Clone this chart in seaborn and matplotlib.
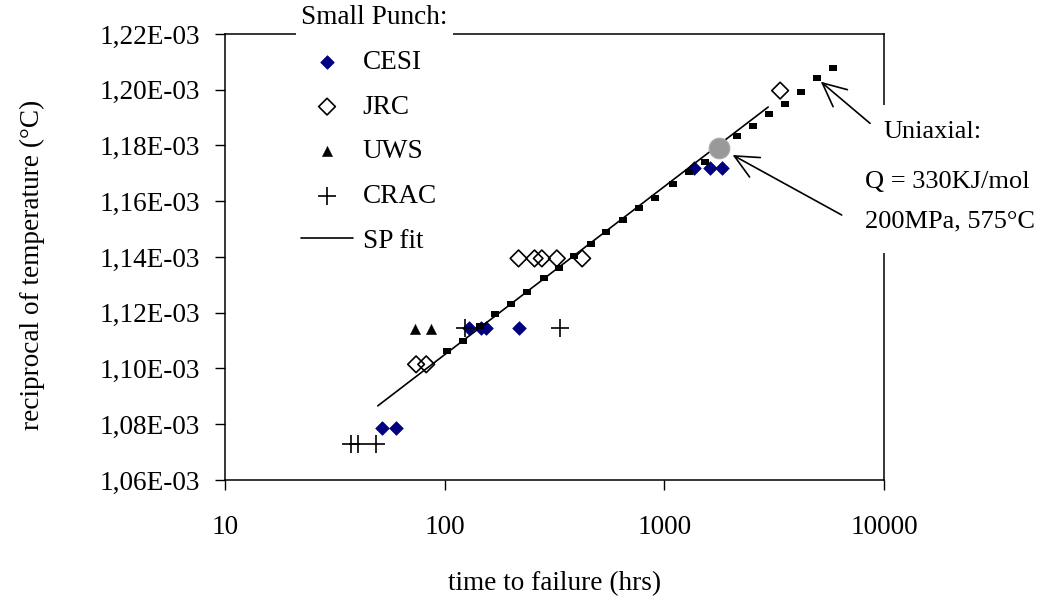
import numpy as np
import pandas as pd
import matplotlib
matplotlib.use("Agg")
import matplotlib.pyplot as plt
import seaborn as sns
from matplotlib.markers import MarkerStyle
from matplotlib.patches import Rectangle
from matplotlib.ticker import FixedLocator, FuncFormatter, NullLocator

# ---------------- data ----------------
cesi_t = [52.1, 60.3, 129.0, 146.9, 153.6, 216.9, 1369, 1618, 1829]
cesi_v = [1.0786e-3, 1.0786e-3, 1.1144e-3, 1.1144e-3, 1.1144e-3, 1.1144e-3,
          1.1718e-3, 1.1718e-3, 1.1718e-3]
jrc_t = [74.1, 82.4, 216.9, 256.5, 276.9, 324.0, 422.5, 3366]
jrc_v = [1.1015e-3, 1.1015e-3, 1.1395e-3, 1.1395e-3, 1.1395e-3, 1.1395e-3,
         1.1395e-3, 1.1997e-3]
uws_t = [73.1, 86.4]
uws_v = [1.1142e-3, 1.1142e-3]
crac_t = [37.3, 40.4, 48.9, 123.3, 336.7]
crac_v = [1.0728e-3, 1.0728e-3, 1.0728e-3, 1.1144e-3, 1.1144e-3]
fit_t = [49.6, 2970]
fit_v = [1.0866e-3, 1.1938e-3]
uni_t = [102.9, 121.4, 144.2, 170.2, 201.1, 237.6, 281.8, 333.2, 389.9, 464.4,
         543.3, 646.2, 764.2, 910.2, 1099, 1299, 1536, 1816, 2141, 2538, 3001,
         3548, 4195, 4961, 5862]
uni_v = [1.1064e-3, 1.1098e-3, 1.1153e-3, 1.1194e-3, 1.1230e-3, 1.1273e-3,
         1.1324e-3, 1.1360e-3, 1.1404e-3, 1.1446e-3, 1.1490e-3, 1.1533e-3,
         1.1576e-3, 1.1611e-3, 1.1662e-3, 1.1704e-3, 1.1740e-3, 1.1787e-3,
         1.1834e-3, 1.1869e-3, 1.1913e-3, 1.1949e-3, 1.1991e-3, 1.2041e-3,
         1.2077e-3]
ref_t = [1778]
ref_v = [1.1792e-3]

x_ticks = [10, 100, 1000, 10000]
y_ticks = [1.06e-3, 1.08e-3, 1.10e-3, 1.12e-3, 1.14e-3, 1.16e-3, 1.18e-3, 1.20e-3, 1.22e-3]

# ---------------- style ----------------
sns.set_theme(style="ticks")
plt.rcParams['font.family'] = ['Liberation Serif', 'DejaVu Serif']
plt.rcParams['text.color'] = 'black'
plt.rcParams['axes.labelcolor'] = 'black'
plt.rcParams['xtick.color'] = 'black'
plt.rcParams['ytick.color'] = 'black'
plt.rcParams['axes.linewidth'] = 1.1
FS = 19.6
FS_ANN = 19

fig = plt.figure(figsize=(10.42, 6), dpi=100)
W, H = 1042, 600
L, R, T, B = 225, 884, 34, 480
ax = fig.add_axes([L / W, 1 - B / H, (R - L) / W, (B - T) / H])
ax.set_facecolor("white")

navy = "#000080"
sns.scatterplot(x=cesi_t, y=cesi_v, ax=ax, marker="D", s=48, color=navy,
                edgecolor=navy, linewidth=0.5, label="CESI", zorder=3)
sns.scatterplot(x=jrc_t, y=jrc_v, ax=ax, marker=MarkerStyle("D"), s=72, facecolor="none",
                edgecolor="black", linewidth=1.2, label="JRC", zorder=3)
sns.scatterplot(x=uws_t, y=uws_v, ax=ax, marker="^", s=55, color="black",
                edgecolor="black", linewidth=0.3, label="UWS", zorder=3)
sns.scatterplot(x=crac_t, y=crac_v, ax=ax, marker="+", s=170, color="black",
                linewidth=1.2, label="CRAC", zorder=3)
sns.lineplot(x=fit_t, y=fit_v, ax=ax, color="black", linewidth=1.2,
             label="SP fit", zorder=4)
rect_marker = MarkerStyle([(-1, -0.72), (1, -0.72), (1, 0.72), (-1, 0.72), (-1, -0.72)])
sns.scatterplot(x=uni_t, y=uni_v, ax=ax, marker=rect_marker, s=34, color="black",
                edgecolor="black", linewidth=0, legend=False, zorder=5)
sns.scatterplot(x=ref_t, y=ref_v, ax=ax, marker="o", s=220, color="#999999",
                edgecolor="#aaaaaa", linewidth=0.8, legend=False, zorder=6)

# ---------------- axes ----------------
ax.set_xscale("log")
ax.set_xlim(10, 10000)
ax.set_ylim(1.06e-3, 1.22e-3)
ax.xaxis.set_major_locator(FixedLocator(x_ticks))
ax.xaxis.set_minor_locator(NullLocator())
ax.xaxis.set_major_formatter(FuncFormatter(lambda v, p: f"{v:.0f}"))
ax.yaxis.set_major_locator(FixedLocator(y_ticks))
ax.yaxis.set_major_formatter(FuncFormatter(lambda v, p: f"{v:.2E}".replace(".", ",")))
ax.tick_params(axis="x", direction="out", length=7, width=1, colors="black",
               labelsize=FS, pad=18)
ax.tick_params(axis="y", direction="out", length=7, width=1, colors="black",
               labelsize=FS, pad=11)
for sp in ax.spines.values():
    sp.set_visible(True)
    sp.set_color("black")
    sp.set_linewidth(1.1)

ax.set_xlabel("time to failure (hrs)", fontsize=FS)
ax.set_ylabel("reciprocal of temperature (°C)", fontsize=FS)
ax.xaxis.set_label_coords(0.5, -(571 - B) / (B - T))
ax.yaxis.set_label_coords(-(225 - 45) / (R - L), (B - 265) / (B - T))

# ---------------- legend ----------------
handles, labels = ax.get_legend_handles_labels()
leg = ax.legend(handles, labels, title="Small Punch:", loc="upper left",
                bbox_to_anchor=(296 / W, 1 - 0 / H), bbox_transform=fig.transFigure,
                fontsize=FS, title_fontsize=FS, frameon=True, fancybox=False,
                framealpha=1, facecolor="white", edgecolor="white",
                borderpad=0.2, labelspacing=0.72, handlelength=1.88,
                handletextpad=0.37, borderaxespad=0)
leg.get_frame().set_linewidth(0)
leg._legend_box.align = "left"

# ---------------- annotations ----------------
fig.add_artist(Rectangle(((R - 8) / W, 1 - 253 / H), 16 / W, (253 - 105) / H,
                         transform=fig.transFigure, facecolor="white",
                         edgecolor="none", zorder=1))
fig.text(883 / W, 1 - 131.7 / H, "Uniaxial:", fontsize=FS_ANN, ha="left", va="center")
fig.text(865 / W, 1 - 181.7 / H, "Q = 330KJ/mol", fontsize=FS_ANN, ha="left", va="center")
fig.text(865 / W, 1 - 221.7 / H, "200MPa, 575°C", fontsize=FS_ANN, ha="left", va="center")

arrow_kw = dict(arrowstyle="->,head_length=0.85,head_width=0.4", color="black",
                lw=1.2, shrinkA=0, shrinkB=0, mutation_scale=20)
ax.annotate("", xy=(5152, 1.2029e-3), xytext=(870, H - 123.3),
            textcoords="figure pixels", arrowprops=arrow_kw)
ax.annotate("", xy=(2044, 1.1766e-3), xytext=(841.7, H - 215),
            textcoords="figure pixels", arrowprops=arrow_kw)

fig.savefig("out.png", dpi=100, facecolor="white")
